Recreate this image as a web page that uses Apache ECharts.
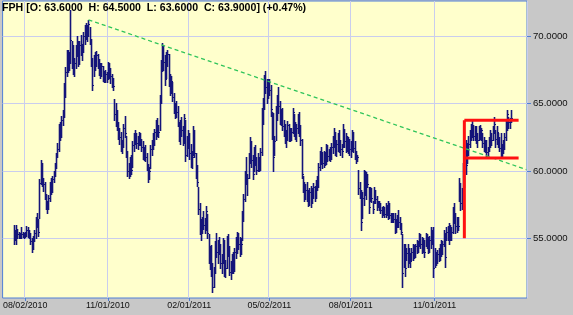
<!DOCTYPE html>
<html><head><meta charset="utf-8">
<script src="https://cdn.jsdelivr.net/npm/echarts@6/dist/echarts.min.js"></script>
<style>html,body{margin:0;padding:0;background:#c8c8c8}#c{width:573px;height:315px}</style>
</head><body><div id="c"></div>
<script>
const ticker = 'FPH';
const lastOpen = 63.6;
const labelDates = ['08/02/2010','11/01/2010','02/01/2011','05/02/2011','08/01/2011','11/01/2011'];
const yTickValues = [55, 60, 65, 70];
const holidays = ['2010-09-06','2010-11-25','2010-12-24','2011-01-17','2011-02-21','2011-04-22','2011-05-30','2011-07-04','2011-09-05','2011-11-24','2011-12-26','2012-01-02','2012-01-16','2012-02-20'];
const calendarStart = '2010-07-08';
const calendarLength = 406;
const firstBarDate = '07/20/2010';

const highs = [
56.0,55.6,56.0,55.7,55.5,55.4,55.8,55.5,55.4,55.5,
55.9,55.8,55.6,55.4,55.0,55.2,55.6,56.6,56.9,56.4,
59.4,60.8,60.6,59.5,59.2,58.3,57.8,58.2,59.2,59.5,
59.6,60.0,60.6,61.3,62.1,63.5,63.6,64.1,64.5,66.5,
67.7,69.0,69.0,68.8,71.9,69.6,69.3,68.4,69.3,70.0,
69.6,69.6,70.1,69.4,70.3,70.8,71.0,70.8,71.2,70.7,
69.8,68.4,68.6,68.8,68.9,68.7,68.3,68.0,68.0,67.8,
67.4,67.5,67.3,68.1,68.0,67.6,67.2,66.9,65.3,65.0,
64.5,63.6,63.2,62.9,62.3,63.5,64.1,62.6,61.5,60.6,
61.0,61.2,62.2,62.8,63.0,62.8,62.6,62.9,62.8,62.4,
62.2,61.8,61.9,61.3,60.5,60.3,61.9,62.3,62.8,63.1,
63.8,63.9,63.4,65.6,68.2,69.5,69.3,68.6,68.8,69.0,
68.7,67.2,67.0,66.6,65.8,65.0,65.2,64.8,63.6,63.8,
64.0,63.3,64.2,63.8,62.6,63.0,62.8,62.0,61.5,63.3,
63.0,61.3,60.4,58.8,57.6,56.4,56.6,57.0,56.5,57.4,
56.8,55.3,54.4,54.5,53.2,52.9,54.8,55.4,54.9,55.1,
54.6,53.8,55.0,54.9,53.4,55.2,55.3,54.4,53.3,53.8,
54.0,54.3,55.1,55.5,55.4,55.1,55.0,57.0,58.3,60.0,
61.0,59.8,61.3,62.5,62.2,61.2,61.8,61.9,61.0,61.3,
61.0,61.7,64.7,65.4,67.1,67.4,66.8,66.8,66.8,66.4,
64.4,64.3,62.6,64.8,65.6,66.2,65.2,64.6,64.7,63.8,
63.5,63.0,63.7,63.5,63.2,63.2,64.7,64.2,63.6,63.5,
64.2,64.4,63.4,62.4,59.6,59.2,59.0,59.2,58.6,58.7,
58.9,58.7,59.1,58.9,59.3,59.6,60.6,61.5,61.8,61.4,
61.5,61.4,62.0,61.9,61.6,61.8,62.1,62.6,63.2,62.9,
62.3,62.8,63.0,62.3,62.0,63.5,63.1,62.8,62.6,62.5,
62.4,62.2,63.0,62.9,62.2,61.5,61.2,60.1,59.2,58.6,
58.4,60.1,60.0,59.9,59.8,58.8,58.8,58.7,57.8,58.8,
58.6,58.1,57.8,57.8,57.6,57.3,57.4,57.3,57.6,57.5,
57.8,57.6,56.9,56.9,56.9,56.9,56.4,56.7,57.1,56.6,
56.1,55.3,54.6,54.6,54.3,54.6,54.3,53.9,54.3,54.6,
54.5,54.6,54.9,54.8,55.4,55.3,55.1,55.0,54.9,55.4,
55.3,55.1,55.2,55.8,55.6,55.8,54.3,54.0,54.1,54.3,
54.6,54.9,54.8,55.6,55.4,55.8,55.9,56.1,56.0,55.8,
57.3,57.6,56.9,56.6,56.6,59.5,59.1,58.7,60.6,61.5,
62.3,62.1,62.6,63.0,63.5,63.8,63.4,63.3,63.3,62.8,
63.3,63.4,63.2,62.8,62.5,62.3,62.3,61.8,62.5,63.0,
62.8,63.3,64.0,63.0,63.3,62.8,62.5,62.8,62.0,62.3,
62.8,63.8,64.5,64.0,63.9,64.5
];
const lows = [
54.6,54.9,54.6,55.0,55.0,55.0,55.0,55.1,55.0,55.1,
55.2,55.1,55.0,54.6,54.0,54.2,54.8,55.0,55.8,55.2,
56.5,59.0,58.9,58.5,57.9,57.2,56.9,57.2,57.8,58.3,
58.4,59.2,59.6,60.2,61.0,61.5,62.3,62.5,63.4,64.0,
65.5,67.0,67.3,67.5,68.0,67.6,67.2,67.0,67.6,68.5,
67.8,67.9,68.6,68.2,68.8,69.4,69.8,69.6,70.0,69.4,
67.8,66.0,67.0,67.5,67.8,67.6,67.1,66.9,67.0,66.7,
66.6,66.6,66.6,66.8,66.9,66.5,66.2,66.0,63.8,63.3,
63.0,62.4,62.0,61.5,61.3,61.8,62.5,61.0,59.6,59.5,
59.6,59.8,60.3,61.5,62.0,61.7,61.6,61.9,61.9,61.5,
60.9,60.8,60.7,60.1,59.2,59.4,60.2,61.2,61.6,61.9,
62.4,62.6,62.5,63.0,65.0,67.4,67.5,66.4,66.9,67.8,
66.3,65.6,65.8,65.2,64.3,63.9,64.0,63.3,62.2,62.0,
62.6,61.9,62.1,60.7,61.1,61.7,60.9,60.3,60.2,61.2,
61.0,59.5,58.9,56.8,55.3,54.9,55.4,55.7,55.4,55.6,
55.0,53.2,52.7,52.2,51.0,51.4,52.4,53.6,53.2,53.8,
52.8,52.4,53.2,52.2,52.1,52.8,53.7,52.3,52.0,52.4,
52.4,52.6,53.5,53.9,54.2,53.7,53.8,54.9,56.3,57.8,
59.0,58.2,59.5,60.6,60.3,59.4,60.0,60.4,59.8,60.0,
60.0,60.1,61.2,63.5,64.6,65.8,65.0,65.4,65.6,64.1,
62.4,60.0,61.2,62.3,63.8,64.3,63.5,63.4,63.0,62.6,
62.1,61.8,62.3,62.2,62.2,62.3,62.8,62.6,62.4,62.2,
62.8,62.6,61.9,59.5,58.4,57.8,57.9,57.8,57.4,57.5,
57.3,57.6,58.0,57.8,58.0,58.6,58.8,60.1,60.5,60.2,
60.3,60.4,60.5,60.7,60.8,60.7,60.9,61.3,61.8,61.2,
61.1,61.5,61.4,61.2,61.0,61.8,61.8,61.4,61.5,61.3,
61.2,61.0,61.5,61.4,60.9,60.6,60.7,58.3,58.0,55.6,
56.5,57.5,58.2,57.9,58.8,56.9,57.8,57.7,56.9,57.6,
57.6,57.1,57.3,57.1,56.9,56.6,56.7,56.6,56.6,56.7,
56.4,56.5,56.2,56.2,56.2,55.4,55.5,55.8,55.8,55.7,
55.3,51.4,52.9,52.2,53.4,52.9,53.2,52.9,53.4,53.4,
53.5,53.6,53.9,54.0,54.4,54.3,53.9,54.0,53.6,54.4,
54.3,53.9,54.0,54.3,54.6,52.1,52.9,53.0,53.2,53.3,
53.4,53.7,53.8,54.4,52.9,54.9,54.9,54.6,54.9,54.9,
55.4,56.1,55.4,55.5,55.6,57.8,57.1,57.2,58.8,58.8,
59.8,60.6,61.2,61.8,62.3,62.5,62.3,62.3,62.1,61.8,
62.3,62.4,62.3,61.8,61.5,61.4,61.1,61.1,61.5,61.8,
61.9,62.3,62.8,61.8,62.0,61.8,61.5,61.1,61.1,61.3,
61.6,62.3,63.0,63.2,63.2,63.6
];
const closes = [
55.3,55.2,55.4,55.3,55.2,55.2,55.3,55.3,55.2,55.3,
55.6,55.3,55.2,54.8,54.3,54.9,55.4,56.3,56.2,55.5,
59.1,60.3,59.3,59.0,58.3,57.6,57.3,58.0,58.9,58.6,
59.4,59.8,60.4,61.0,61.6,63.2,62.8,63.8,64.2,66.2,
67.3,68.6,67.8,68.4,69.7,68.3,67.6,68.0,69.0,69.4,
68.2,69.3,69.0,68.8,70.0,70.5,70.2,70.6,70.9,69.8,
68.3,66.4,68.3,67.9,68.6,68.0,67.5,67.3,67.8,67.0,
66.9,67.2,66.8,67.8,67.2,67.0,66.5,66.3,64.2,63.6,
63.4,62.8,62.5,61.9,62.0,63.2,62.8,61.3,60.0,59.8,
60.5,60.1,61.9,62.5,62.7,62.1,62.4,62.6,62.3,61.8,
61.2,61.4,61.0,60.4,59.6,60.0,61.6,62.0,62.2,62.9,
63.5,63.0,62.9,65.2,67.8,69.1,68.1,66.8,68.5,68.7,
66.6,66.0,66.7,65.5,64.7,64.7,64.4,63.6,62.5,63.4,
63.0,62.2,63.9,61.2,61.8,62.6,61.3,60.6,61.0,63.0,
61.3,59.8,59.2,57.2,55.7,55.9,56.2,56.0,55.8,57.0,
55.4,53.6,53.0,52.6,51.4,52.4,54.4,54.0,54.6,54.2,
53.2,53.5,54.6,52.6,52.8,54.8,54.0,52.5,52.9,53.5,
52.7,54.0,54.5,55.2,54.6,54.0,54.6,56.5,57.9,59.6,
59.4,59.5,61.0,62.0,60.8,59.8,61.5,60.7,60.1,60.9,
60.3,61.4,64.2,65.0,66.8,66.2,65.4,66.5,66.0,64.6,
62.8,61.0,62.2,64.5,65.0,64.8,63.8,64.2,63.3,63.0,
62.4,62.5,63.4,62.6,62.5,62.9,64.4,63.0,62.8,63.2,
63.9,63.0,62.3,59.8,58.9,58.0,58.6,58.2,57.7,58.4,
57.6,58.3,58.8,58.1,59.0,58.9,60.3,61.2,60.8,60.6,
61.2,60.8,61.6,61.1,61.3,61.0,61.8,62.3,62.2,61.5,
62.0,62.4,61.7,61.6,61.5,63.0,62.2,62.5,61.8,62.1,
61.6,61.9,62.6,61.7,61.3,60.9,61.0,58.7,58.4,56.2,
58.0,59.6,58.6,59.5,59.0,57.3,58.5,58.0,57.2,58.5,
57.9,57.6,57.5,57.4,57.1,56.9,57.2,56.8,57.3,56.9,
57.5,56.7,56.5,56.7,56.4,55.8,56.1,56.5,56.2,56.0,
55.5,52.4,54.0,52.8,53.9,54.2,53.6,53.3,54.0,54.2,
53.8,54.4,54.3,54.6,55.1,54.6,54.2,54.8,54.0,55.2,
54.6,54.2,54.9,55.4,55.0,52.8,53.7,53.3,53.8,54.0,
54.3,54.1,54.6,55.3,53.6,55.5,55.2,55.7,55.3,55.5,
56.9,56.6,55.9,56.2,55.9,59.1,57.6,58.4,60.2,61.0,
60.4,61.8,62.0,62.7,63.2,62.9,62.6,63.0,62.5,62.3,
63.0,62.8,63.0,62.1,61.8,61.9,61.4,61.6,62.2,62.6,
62.3,63.0,63.5,62.4,62.9,62.1,61.7,61.3,61.6,62.0,
62.5,63.4,64.2,63.6,63.6,63.9
];

const trendStart = ['10/11/2010', 71.2];
const trendEndValue = 60.1;
const flagPole = [['12/05/2011', 55.0], ['12/05/2011', 63.75]];
const flagTop = [['12/05/2011', 63.75], ['02/06/2012', 63.75]];
const flagBottom = [['12/05/2011', 60.95], ['02/06/2012', 60.95]];

function buildCalendar(start, count, skip) {
  const out = [];
  const d = new Date(start + 'T00:00:00Z');
  while (out.length < count) {
    const dow = d.getUTCDay();
    const iso = d.toISOString().slice(0, 10);
    if (dow !== 0 && dow !== 6 && skip.indexOf(iso) < 0) {
      out.push(iso.slice(5, 7) + '/' + iso.slice(8, 10) + '/' + iso.slice(0, 4));
    }
    d.setUTCDate(d.getUTCDate() + 1);
  }
  return out;
}
const dates = buildCalendar(calendarStart, calendarLength, holidays);
const firstIdx = dates.indexOf(firstBarDate);
const barItems = highs.map((h, k) => [firstIdx + k, h, lows[k], closes[k]]);
const n = closes.length;
const pct = (closes[n - 1] - closes[n - 2]) / closes[n - 2] * 100;
const header = ticker + ' [O: ' + lastOpen.toFixed(4) + '  H: ' + highs[n - 1].toFixed(4) +
  '  L: ' + lows[n - 1].toFixed(4) + '  C: ' + closes[n - 1].toFixed(4) + '] (' +
  (pct >= 0 ? '+' : '') + pct.toFixed(2) + '%)';

const isLabelDate = (i, v) => labelDates.indexOf(v) >= 0;
const BAR = '#14147a';
const GRIDC = '#c9cdee';
const BORDER = '#4f7fd8';

const chart = echarts.init(document.getElementById('c'), null, {renderer: 'canvas'});
chart.setOption({
  animation: false,
  backgroundColor: '#c8c8c8',
  title: {
    text: header, left: 2, top: 3, padding: 0,
    textStyle: {fontFamily: 'Liberation Sans', fontSize: 10.6, fontWeight: 'bold', color: '#000'}
  },
  grid: {
    left: -2, right: 46, top: 1, bottom: 17, show: true,
    backgroundColor: '#ffffcc', borderColor: BORDER, borderWidth: 1
  },
  xAxis: {
    type: 'category', data: dates, boundaryGap: true,
    axisLine: {show: false},
    axisTick: {show: true, interval: isLabelDate, alignWithLabel: true, length: 3, lineStyle: {color: BORDER}},
    axisLabel: {interval: isLabelDate, fontFamily: 'Liberation Sans', fontSize: 8.9, color: '#111', margin: 3},
    splitLine: {show: true, interval: isLabelDate, lineStyle: {color: GRIDC, width: 1}}
  },
  yAxis: {
    type: 'value', position: 'right', min: 50.57, max: 72.6, scale: true,
    axisLine: {show: false},
    axisTick: {show: true, customValues: yTickValues, length: 4, lineStyle: {color: BORDER}},
    axisLabel: {customValues: yTickValues, formatter: v => v.toFixed(4), fontFamily: 'Liberation Sans', fontSize: 9.6, color: '#111', margin: 6},
    splitLine: {show: true, lineStyle: {color: GRIDC, width: 1}}
  },
  series: [
    {
      type: 'custom', name: ticker, data: barItems, encode: {x: 0, y: [1, 2, 3]}, z: 3,
      renderItem: function (params, api) {
        const x = api.value(0);
        const hi = api.coord([x, api.value(1)]);
        const lo = api.coord([x, api.value(2)]);
        const cl = api.coord([x, api.value(3)]);
        const px = Math.round(hi[0]) + 0.5;
        const cy = Math.round(cl[1]) + 0.5;
        return {type: 'group', children: [
          {type: 'line', shape: {x1: px, y1: Math.round(hi[1]), x2: px, y2: Math.round(lo[1]) + 1}, style: {stroke: BAR, lineWidth: 1.6}},
          {type: 'line', shape: {x1: px, y1: cy, x2: px + 1.5, y2: cy}, style: {stroke: BAR, lineWidth: 1}}
        ]};
      }
    },
    {
      type: 'line', data: [trendStart, [dates[dates.length - 1], trendEndValue]], symbol: 'none', z: 4,
      lineStyle: {color: '#2fc45a', width: 1.3, type: [4, 3]}
    },
    {type: 'line', data: flagPole, symbol: 'none', z: 5, lineStyle: {color: '#ff1111', width: 3}},
    {type: 'line', data: flagTop, symbol: 'none', z: 5, lineStyle: {color: '#ff1111', width: 3}},
    {type: 'line', data: flagBottom, symbol: 'none', z: 5, lineStyle: {color: '#ff1111', width: 3}}
  ]
});
</script></body></html>
